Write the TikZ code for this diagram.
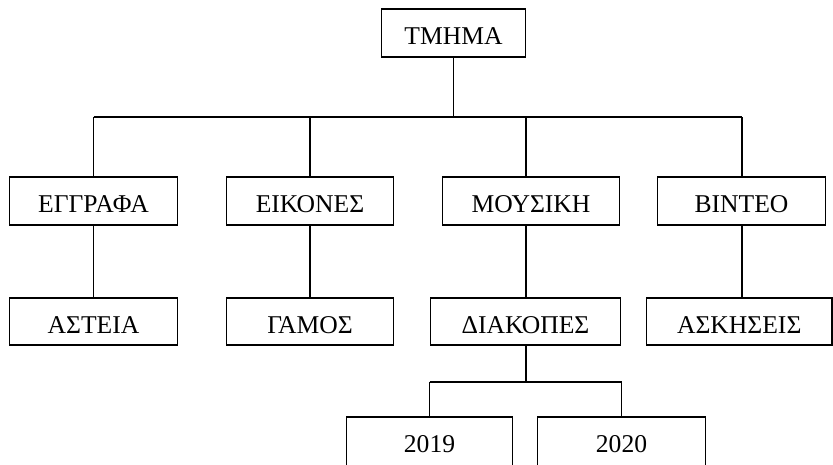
\documentclass[tikz,border=0pt]{standalone}
\usepackage{fontspec}
\setmainfont{Liberation Serif}
\begin{document}
\begin{tikzpicture}[x=1pt,y=-1pt,
  box/.style={draw, line width=1.6pt, rectangle, inner sep=0pt,
    minimum height=47.5pt, text height=23pt, text depth=0pt,
    font=\fontsize{25.6}{30}\selectfont},
  lowbox/.style={box, minimum height=52pt, text depth=5pt},
  conn/.style={line width=1.6pt}]
\useasboundingbox (0,0) rectangle (833,464);
% nodes
\node[box, minimum width=144pt] (top) at (453.5,33) {ΤΜΗΜΑ};
\node[box, minimum width=168pt] (eggr) at (93.5,201) {ΕΓΓΡΑΦΑ};
\node[box, minimum width=167pt] (eik) at (310,201) {ΕΙΚΟΝΕΣ};
\node[box, minimum width=177pt] (mus) at (531,201) {ΜΟΥΣΙΚΗ};
\node[box, minimum width=168pt] (vid) at (741.5,201) {ΒΙΝΤΕΟ};
\node[box, minimum width=168pt] (ast) at (93.5,321.5) {ΑΣΤΕΙΑ};
\node[box, minimum width=167pt] (gam) at (310,321.5) {ΓΑΜΟΣ};
\node[box, minimum width=190pt] (diak) at (525.5,321.5) {ΔΙΑΚΟΠΕΣ};
\node[box, minimum width=185.5pt] (ask) at (739.25,321.5) {ΑΣΚΗΣΕΙΣ};
\node[lowbox, minimum width=166pt] (y19) at (429.5,443) {2019};
\node[lowbox, minimum width=168pt] (y20) at (621.5,443) {2020};
% bus coordinates
\coordinate (busL) at (93.5,117);
\coordinate (busR) at (742,117);
\coordinate (b2) at (310,117);
\coordinate (b3) at (526,117);
\coordinate (busT) at (453.5,117);
\coordinate (sub) at (526,382);
\coordinate (subL) at (429.5,382);
\coordinate (subR) at (621.5,382);
% connectors
\draw[conn] (top.south) -- (busT);
\draw[conn] (busL) -- (busR);
\draw[conn] (busL) -- (eggr.north);
\draw[conn] (b2) -- (eik.north);
\draw[conn] (b3) -- (b3 |- mus.north);
\draw[conn] (busR) -- (busR |- vid.north);
\draw[conn] (eggr.south) -- (ast.north);
\draw[conn] (eik.south) -- (gam.north);
\draw[conn] (b3 |- mus.south) -- (b3 |- diak.north);
\draw[conn] (busR |- vid.south) -- (busR |- ask.north);
\draw[conn] (b3 |- diak.south) -- (sub);
\draw[conn] (subL) -- (subR);
\draw[conn] (subL) -- (y19.north);
\draw[conn] (subR) -- (y20.north);
\end{tikzpicture}
\end{document}
